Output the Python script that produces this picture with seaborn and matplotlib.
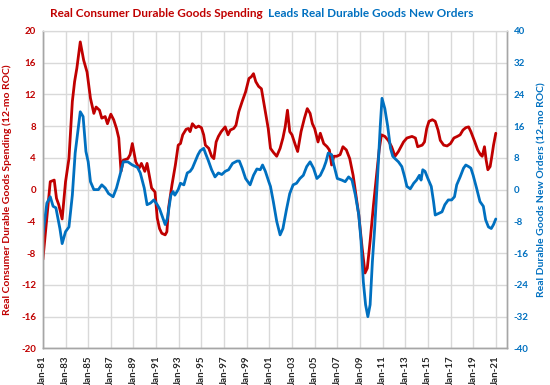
import matplotlib
matplotlib.use("Agg")
import pandas as pd
import matplotlib.pyplot as plt
import seaborn as sns

RED = "#C00000"
BLUE = "#0070C0"
GRID = "#D9D9D9"

# Real consumer durable goods spending, 12-mo rate of change (left axis)
spend_year = [
    1981.0, 1981.35, 1981.65, 1982.0, 1982.2, 1982.4, 1982.7, 1983.0, 1983.3, 1983.6,
    1983.8, 1984.0, 1984.3, 1984.6, 1984.9, 1985.2, 1985.5, 1985.7, 1986.0, 1986.2,
    1986.5, 1986.7, 1987.0, 1987.25, 1987.5, 1987.7, 1987.9, 1988.1, 1988.5, 1988.7,
    1988.9, 1989.2, 1989.5, 1989.7, 1990.0, 1990.2, 1990.6, 1990.9, 1991.1, 1991.3,
    1991.5, 1991.8, 1991.95, 1992.1, 1992.4, 1992.7, 1992.95, 1993.15, 1993.35, 1993.65,
    1993.85, 1994.0, 1994.2, 1994.5, 1994.75, 1995.0, 1995.2, 1995.35, 1995.65, 1995.9,
    1996.1, 1996.3, 1996.5, 1996.75, 1997.1, 1997.35, 1997.55, 1997.85, 1998.05, 1998.3,
    1998.6, 1998.9, 1999.2, 1999.4, 1999.6, 1999.8, 2000.05, 2000.3, 2000.6, 2000.9,
    2001.1, 2001.35, 2001.65, 2001.95, 2002.2, 2002.4, 2002.6, 2002.8, 2003.0, 2003.3,
    2003.5, 2003.8, 2004.1, 2004.35, 2004.6, 2004.8, 2005.0, 2005.3, 2005.5, 2005.8,
    2006.1, 2006.3, 2006.5, 2006.7, 2006.95, 2007.25, 2007.5, 2007.8, 2008.1, 2008.4,
    2008.65, 2008.9, 2009.2, 2009.45, 2009.65, 2009.9, 2010.2, 2010.5, 2010.7, 2010.9,
    2011.2, 2011.5, 2011.8, 2012.1, 2012.4, 2012.85, 2013.15, 2013.6, 2013.9, 2014.1,
    2014.5, 2014.7, 2014.9, 2015.1, 2015.4, 2015.65, 2015.9, 2016.1, 2016.4, 2016.7,
    2017.0, 2017.3, 2017.6, 2017.85, 2018.1, 2018.35, 2018.6, 2018.8, 2019.15, 2019.4,
    2019.65, 2019.8, 2020.0, 2020.15, 2020.3, 2020.5, 2020.65, 2020.8, 2021.0,
]
spend_roc = [
    -8.8, -3.5, 1.0, 1.2, -1.1, -1.9, -3.7, 1.0, 3.9, 11.1,
    13.6, 15.3, 18.6, 16.3, 14.8, 11.5, 9.6, 10.4, 10.0, 9.0,
    9.2, 8.3, 9.5, 8.8, 7.7, 6.5, 2.3, 3.7, 3.9, 4.4,
    5.8, 3.5, 2.7, 3.3, 2.3, 3.3, 0.2, -0.3, -3.6, -4.9,
    -5.5, -5.7, -5.3, -2.3, 0.6, 3.1, 5.6, 5.8, 6.9, 7.6,
    7.7, 7.3, 8.3, 7.8, 8.0, 7.8, 6.9, 5.6, 5.2, 4.2,
    3.9, 6.0, 6.7, 7.3, 7.9, 6.9, 7.5, 7.7, 8.1, 9.8,
    11.1, 12.3, 14.0, 14.2, 14.6, 13.6, 13.0, 12.7, 10.2, 7.7,
    5.2, 4.7, 4.2, 5.2, 6.5, 7.9, 10.0, 7.3, 6.9, 5.6,
    4.8, 7.3, 9.0, 10.2, 9.6, 8.3, 7.7, 6.0, 7.1, 5.8,
    5.4, 5.0, 3.1, 4.2, 4.2, 4.4, 5.4, 5.0, 3.9, 1.8,
    -0.7, -3.2, -7.4, -10.5, -9.9, -6.5, -1.9, 2.3, 5.0, 6.9,
    6.7, 6.2, 5.4, 4.2, 4.8, 6.0, 6.5, 6.7, 6.5, 5.4,
    5.6, 6.0, 7.7, 8.6, 8.8, 8.6, 7.5, 6.2, 5.6, 5.5,
    5.8, 6.5, 6.7, 6.9, 7.5, 7.8, 7.9, 7.3, 6.0, 5.0,
    4.4, 4.2, 5.4, 3.7, 2.5, 2.9, 4.2, 5.6, 7.1,
]

# Real durable goods new orders, 12-mo rate of change (right axis)
orders_year = [
    1981.0, 1981.35, 1981.65, 1981.9, 1982.15, 1982.5, 1982.7, 1983.0, 1983.3, 1983.6,
    1983.85, 1984.05, 1984.3, 1984.55, 1984.8, 1985.0, 1985.2, 1985.5, 1985.9, 1986.2,
    1986.5, 1986.8, 1987.2, 1987.5, 1987.8, 1988.1, 1988.5, 1988.9, 1989.35, 1989.6,
    1989.95, 1990.2, 1990.5, 1990.8, 1991.1, 1991.3, 1991.5, 1991.8, 1992.0, 1992.3,
    1992.5, 1992.65, 1992.95, 1993.15, 1993.45, 1993.75, 1994.0, 1994.2, 1994.5, 1994.7,
    1994.9, 1995.2, 1995.35, 1995.6, 1995.9, 1996.2, 1996.5, 1996.8, 1997.1, 1997.4,
    1997.75, 1998.15, 1998.35, 1998.6, 1998.9, 1999.3, 1999.6, 1999.9, 2000.2, 2000.4,
    2000.65, 2000.95, 2001.1, 2001.35, 2001.65, 2001.95, 2002.2, 2002.5, 2002.8, 2003.1,
    2003.4, 2003.7, 2004.0, 2004.3, 2004.6, 2004.9, 2005.2, 2005.5, 2005.8, 2006.0,
    2006.2, 2006.5, 2006.7, 2007.0, 2007.4, 2007.7, 2008.0, 2008.3, 2008.6, 2008.9,
    2009.1, 2009.3, 2009.5, 2009.7, 2009.9, 2010.1, 2010.3, 2010.55, 2010.8, 2010.95,
    2011.2, 2011.45, 2011.7, 2011.9, 2012.1, 2012.4, 2012.7, 2012.95, 2013.15, 2013.45,
    2013.75, 2014.0, 2014.25, 2014.4, 2014.55, 2014.75, 2015.0, 2015.3, 2015.5, 2015.65,
    2015.95, 2016.25, 2016.5, 2016.8, 2017.1, 2017.35, 2017.55, 2017.85, 2018.15, 2018.35,
    2018.6, 2018.8, 2019.0, 2019.3, 2019.6, 2019.9, 2020.1, 2020.35, 2020.6, 2020.8,
    2021.0,
]
orders_roc = [
    -11.4, -3.4, -1.8, -4.2, -4.6, -9.8, -13.6, -10.6, -9.4, -1.4,
    9.2, 13.8, 19.6, 18.4, 9.6, 7.0, 2.0, 0.0, 0.0, 1.2,
    0.4, -1.0, -1.8, 0.4, 3.6, 7.0, 7.0, 6.2, 5.6, 4.2,
    0.4, -3.8, -3.4, -2.6, -3.8, -4.8, -6.4, -8.8, -7.2, -1.4,
    -0.5, -1.4, 0.0, 1.6, 1.2, 4.2, 4.6, 5.4, 7.4, 8.8,
    9.8, 10.4, 9.2, 7.4, 5.0, 3.2, 4.2, 3.8, 4.6, 5.0,
    6.6, 7.2, 7.2, 5.4, 2.8, 1.2, 3.6, 5.2, 5.0, 6.2,
    4.6, 2.0, 0.8, -3.0, -8.0, -11.4, -9.8, -5.2, -1.0, 1.2,
    1.6, 2.8, 3.6, 5.8, 7.0, 5.4, 2.8, 3.6, 5.4, 7.0,
    9.2, 8.8, 6.2, 2.8, 2.4, 2.0, 3.2, 2.4, -1.4, -6.4,
    -13.0, -23.2, -29.0, -32.0, -29.0, -18.2, -9.8, 2.8, 16.2, 23.0,
    20.4, 16.0, 10.4, 8.4, 7.8, 7.0, 5.8, 3.2, 0.8, 0.2,
    1.6, 2.4, 3.6, 2.4, 5.0, 4.6, 2.8, 0.8, -3.0, -6.4,
    -6.0, -5.6, -3.8, -2.6, -2.6, -1.8, 1.2, 3.2, 5.4, 6.2,
    5.8, 5.4, 3.6, 0.4, -3.0, -4.2, -7.6, -9.4, -9.8, -8.8,
    -7.4,
]

tick_years = list(range(1981, 2022, 2))
tick_labels = [f"Jan-{y % 100:02d}" for y in tick_years]
left_ticks = list(range(-20, 21, 4))
right_ticks = list(range(-40, 41, 8))

spend = pd.DataFrame({"year": spend_year, "roc": spend_roc})
orders = pd.DataFrame({"year": orders_year, "roc": orders_roc})

sns.set_style("white")
plt.rcParams["font.family"] = ["Lato", "DejaVu Sans"]

fig = plt.figure(figsize=(5.5, 3.85), dpi=100)
ax = fig.add_axes([0.078, 0.095, 0.843, 0.825])
ax2 = ax.twinx()

sns.lineplot(data=spend, x="year", y="roc", ax=ax, color=RED, linewidth=2.0)
sns.lineplot(data=orders, x="year", y="roc", ax=ax2, color=BLUE, linewidth=2.0)

ax.set_xlim(1981, 2021.95)
ax.set_ylim(-20, 20)
ax2.set_ylim(-40, 40)
ax.set_xticks(tick_years)
ax.set_xticklabels(tick_labels, rotation=90, fontsize=7, fontweight="bold")
ax.set_yticks(left_ticks)
ax.set_yticklabels([str(v) for v in left_ticks], fontsize=7, fontweight="bold", color=RED)
ax2.set_yticks(right_ticks)
ax2.set_yticklabels([str(v) for v in right_ticks], fontsize=7, fontweight="bold", color=BLUE)

ax.grid(True, color=GRID, linewidth=1)
ax.set_axisbelow(True)
for a in (ax, ax2):
    a.tick_params(length=0, pad=5)
    for side in ["left", "bottom", "right"]:
        a.spines[side].set_color("#A6A6A6")
        a.spines[side].set_linewidth(1)
    a.spines["top"].set_color(GRID)

ax.set_xlabel("")
ax.set_ylabel("Real Consumer Durable Goods Spending (12-mo ROC)",
              color=RED, fontsize=7.5, fontweight="bold")
ax2.set_ylabel("Real Durable Goods New Orders (12-mo ROC)",
               color=BLUE, fontsize=7.5, fontweight="bold")
ax.yaxis.set_label_coords(-0.066, 0.5)
ax2.yaxis.set_label_coords(1.067, 0.5)

# two-coloured title
fig.text(0.477, 0.966, "Real Consumer Durable Goods Spending", color=RED,
         fontsize=8.5, fontweight="bold", ha="right", va="center")
fig.text(0.487, 0.966, "Leads Real Durable Goods New Orders", color=BLUE,
         fontsize=8.5, fontweight="bold", ha="left", va="center")

fig.savefig("out.png", dpi=100)
